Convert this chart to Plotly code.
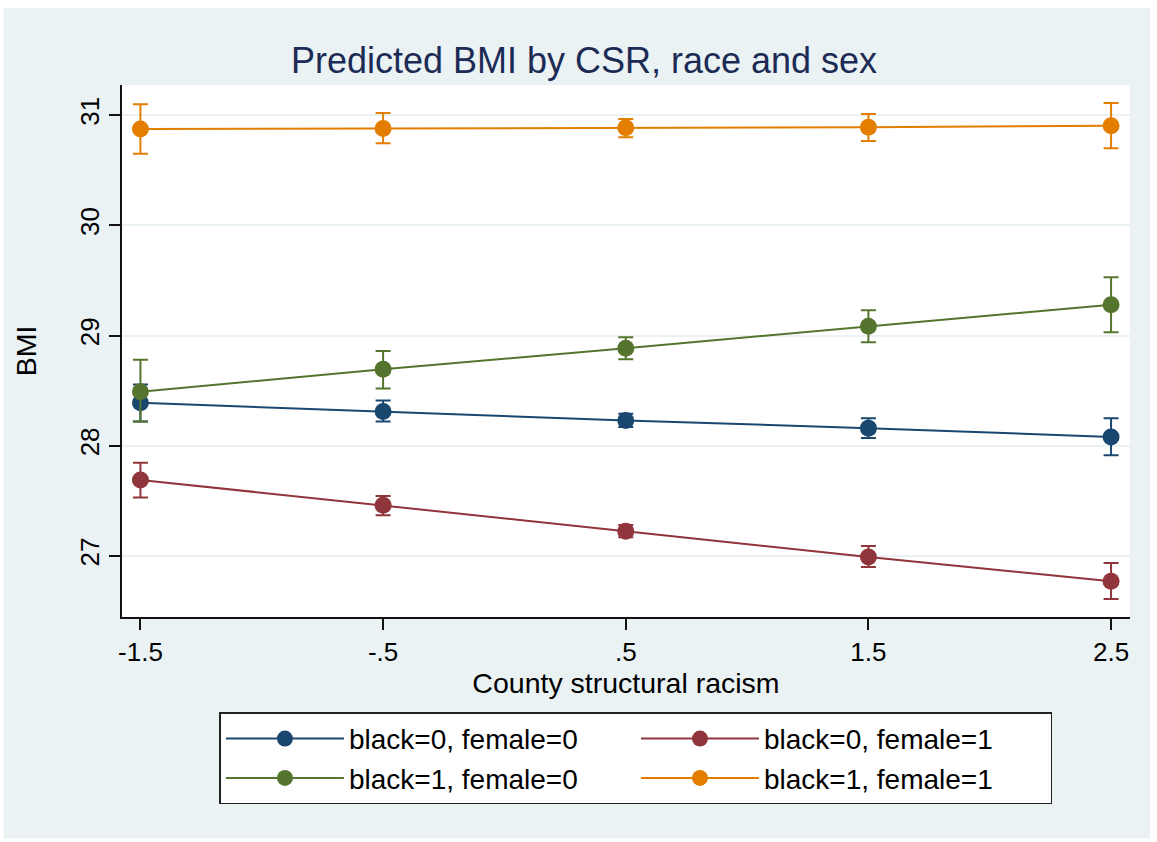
import plotly.graph_objects as go

# ---- data ----
csr = [-1.5, -0.5, 0.5, 1.5, 2.5]
x_tick_labels = ["-1.5", "-.5", ".5", "1.5", "2.5"]
y_ticks = [27, 28, 29, 30, 31]

names = ["black=0, female=0", "black=0, female=1", "black=1, female=0", "black=1, female=1"]

b0f0 = [28.39, 28.31, 28.23, 28.16, 28.08]
b0f0_lo = [28.22, 28.22, 28.17, 28.07, 27.915]
b0f0_hi = [28.555, 28.41, 28.29, 28.25, 28.25]

b0f1 = [27.69, 27.46, 27.225, 26.99, 26.77]
b0f1_lo = [27.53, 27.37, 27.17, 26.90, 26.61]
b0f1_hi = [27.845, 27.545, 27.28, 27.09, 26.935]

b1f0 = [28.49, 28.695, 28.885, 29.085, 29.28]
b1f0_lo = [28.22, 28.52, 28.785, 28.94, 29.03]
b1f0_hi = [28.78, 28.86, 28.985, 29.23, 29.53]

b1f1 = [30.875, 30.88, 30.885, 30.89, 30.905]
b1f1_lo = [30.65, 30.745, 30.80, 30.765, 30.70]
b1f1_hi = [31.10, 31.02, 30.965, 31.01, 31.11]

colors = ["#1A476F", "#90353B", "#55752F", "#E37E00"]

series = [
    (b0f0, b0f0_lo, b0f0_hi),
    (b0f1, b0f1_lo, b0f1_hi),
    (b1f0, b1f0_lo, b1f0_hi),
    (b1f1, b1f1_lo, b1f1_hi),
]

FONT = "Liberation Sans, Arial, Helvetica, sans-serif"
BG = "#EAF2F3"

fig = go.Figure()
for name, col, (y, lo, hi) in zip(names, colors, series):
    fig.add_trace(go.Scatter(
        x=csr, y=y, name=name, mode="lines+markers",
        line=dict(color=col, width=2),
        marker=dict(color=col, size=17),
        error_y=dict(type="data", symmetric=False,
                     array=[h - v for h, v in zip(hi, y)],
                     arrayminus=[v - l for v, l in zip(y, lo)],
                     color=col, thickness=2, width=7.5),
    ))

fig.update_layout(
    width=1157, height=842,
    margin=dict(l=121.5, r=27, t=85, b=225),
    paper_bgcolor="white", plot_bgcolor="white",
    font=dict(family=FONT, color="black"),
    title=dict(text="Predicted BMI by CSR, race and sex", x=584 / 1157, xref="container",
               xanchor="center", y=1 - 60 / 842, yanchor="middle", yref="container",
               font=dict(size=36, color="#1c2b55", family=FONT)),
    showlegend=True,
    legend=dict(orientation="h", x=(219 - 121.5) / 1008.5, xanchor="left",
                y=(616.7 - 712) / 531.7, yanchor="top",
                bgcolor="white", bordercolor="#222222", borderwidth=1.5,
                font=dict(size=28, family=FONT, color="black"),
                entrywidth=282, entrywidthmode="pixels", itemwidth=118,
                traceorder="normal"),
    shapes=[
        dict(type="rect", xref="paper", yref="paper", x0=-0.1175, x1=1.0198,
             y0=-0.4162, y1=1.1448, fillcolor=BG, line=dict(width=0), layer="below"),
        dict(type="rect", xref="paper", yref="paper", x0=0, x1=1, y0=0, y1=1,
             fillcolor="white", line=dict(width=0), layer="below"),
    ],
)

fig.update_xaxes(
    range=[-1.576, 2.578], tickvals=csr, ticktext=x_tick_labels,
    showgrid=False, zeroline=False, showline=True, linecolor="#111111", linewidth=1.5,
    ticks="outside", ticklen=11, tickwidth=1.5, tickcolor="#111111",
    tickfont=dict(size=26, family=FONT, color="black"),
    title=dict(text="County structural racism", font=dict(size=28.5, family=FONT, color="black"),
               standoff=6),
)
fig.update_yaxes(
    range=[26.446, 31.274], tickvals=y_ticks, ticktext=[str(v) for v in y_ticks],
    tickangle=-90,
    showgrid=True, gridcolor=BG, gridwidth=2, zeroline=False,
    showline=True, linecolor="#111111", linewidth=1.5,
    ticks="outside", ticklen=11, tickwidth=1.5, tickcolor="#111111",
    tickfont=dict(size=26, family=FONT, color="black"),
    title=dict(text="BMI", font=dict(size=28.5, family=FONT, color="black"), standoff=30),
)

fig.write_html("out.html", config={"displayModeBar": False},
               post_script="document.body.style.margin='0';")
